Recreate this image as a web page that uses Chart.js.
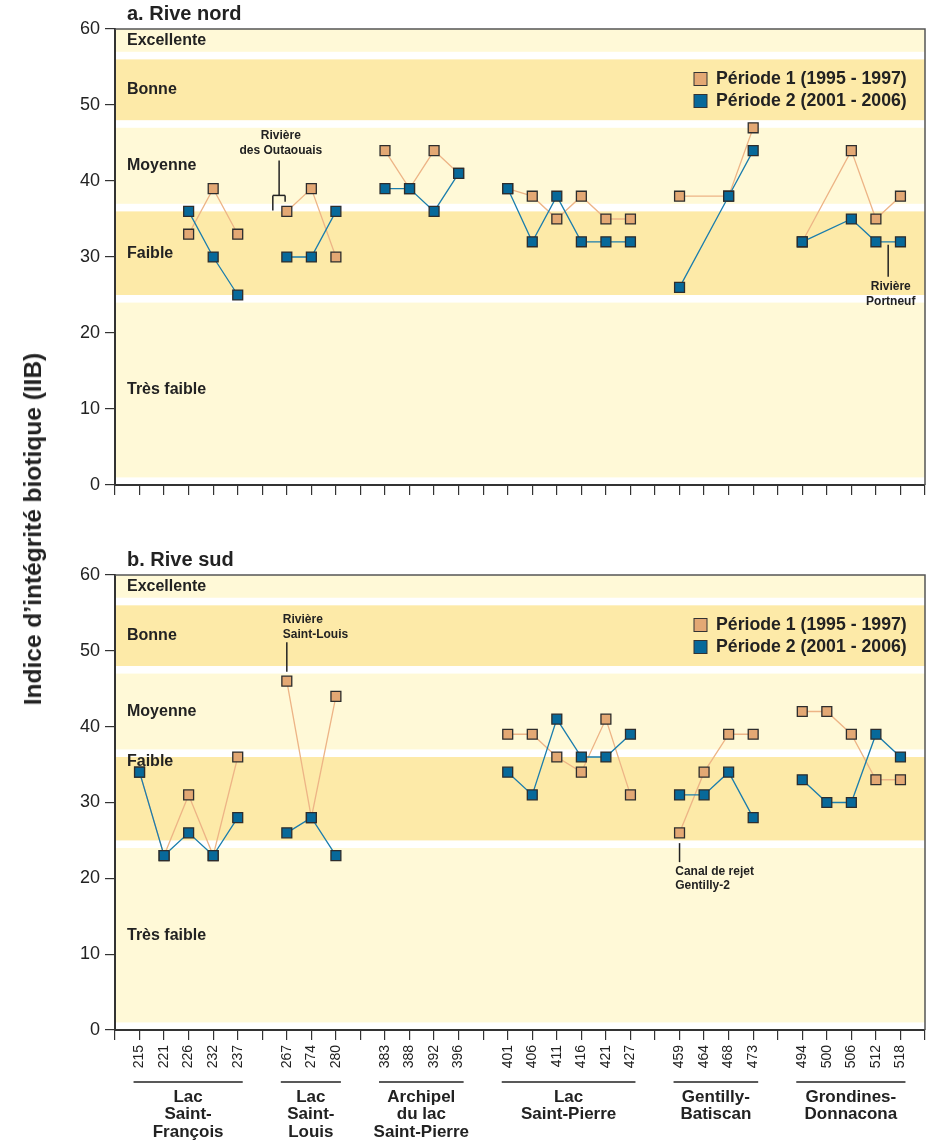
<!DOCTYPE html>
<html lang="fr">
<head>
<meta charset="utf-8">
<title>Indice d'intégrité biotique (IIB)</title>
<script src="https://cdn.jsdelivr.net/npm/chart.js@4.4.1/dist/chart.umd.min.js"></script>
<style>
  html, body { margin: 0; padding: 0; background: #fff; }
  #wrap { position: relative; width: 930px; height: 1141px; overflow: hidden; }
  #c1 { position: absolute; left: 0; top: 0; }
  #c2 { position: absolute; left: 0; top: 545px; }
  #ytitle {
    position: absolute; left: 33px; top: 529px;
    transform: translate(-50%, -50%) rotate(-90deg);
    font: bold 24.5px "Liberation Sans", Arial, sans-serif;
    color: #222; white-space: nowrap;
  }
</style>
</head>
<body>
<div id="wrap">
  <canvas id="c1" width="930" height="545"></canvas>
  <canvas id="c2" width="930" height="596"></canvas>
  <div id="ytitle">Indice d’intégrité biotique (IIB)</div>
</div>
<script>
// Stations regroupees par secteur (ordre amont -> aval)
const groupStations = [
  ["215", "221", "226", "232", "237"],
  ["267", "274", "280"],
  ["383", "388", "392", "396"],
  ["401", "406", "411", "416", "421", "427"],
  ["459", "464", "468", "473"],
  ["494", "500", "506", "512", "518"],
];
const groupNames = [
  ["Lac", "Saint-", "François"],
  ["Lac", "Saint-", "Louis"],
  ["Archipel", "du lac", "Saint-Pierre"],
  ["Lac", "Saint-Pierre"],
  ["Gentilly-", "Batiscan"],
  ["Grondines-", "Donnacona"],
];

// Classes de l'IIB
const bandNames = ["Très faible", "Faible", "Moyenne", "Bonne", "Excellente"];
const bandLow = [1, 25, 37, 48, 57];
const bandHigh = [24, 36, 47, 56, 60];
const yTicks = [0, 10, 20, 30, 40, 50, 60];

const seriesNames = ["Période 1 (1995 - 1997)", "Période 2 (2001 - 2006)"];

// a. Rive nord (null = pas de station)
const nordP1 = [null, null, 33, 39, 33, 36, 39, 30, 44, 39, 44, 41, 39, 38, 35, 38, 35, 35, 38, null, 38, 47, 32, null, 44, 35, 38];
const nordP2 = [null, null, 36, 30, 25, 30, 30, 36, 39, 39, 36, 41, 39, 32, 38, 32, 32, 32, 26, null, 38, 44, 32, null, 35, 32, 32];

// b. Rive sud
const sudP1 = [34, 23, 31, 23, 36, 46, 28, 44, null, null, null, null, 39, 39, 36, 34, 41, 31, 26, 34, 39, 39, 42, 42, 39, 33, 33];
const sudP2 = [34, 23, 26, 23, 28, 26, 28, 23, null, null, null, null, 34, 31, 41, 36, 36, 39, 31, 31, 34, 28, 33, 30, 30, 39, 36];

const FONT = '"Liberation Sans", Arial, Helvetica, sans-serif';
const P1_FILL = "#E3A874", P1_LINE = "#EDB486";
const P2_FILL = "#07699A", P2_LINE = "#1A7DAD";
const BAND_LIGHT = "#FFF9D7", BAND_DARK = "#FDEAA8";
const INK = "#222";

Chart.defaults.font.family = FONT;

// position de chaque station sur l'axe (un creneau vide entre secteurs)
const slotOf = {};
const slotLabel = {};
let slot = 1;
groupStations.forEach((g) => {
  g.forEach((st) => { slotOf[st] = slot; slotLabel[slot] = st; slot++; });
  slot++;
});
const xMax = slot - 1;

function series(values) {
  const pts = [];
  let k = 0;
  groupStations.forEach((g) => {
    g.forEach((st) => {
      const v = values[k++];
      if (v !== null) pts.push({ x: slotOf[st], y: v });
    });
    pts.push({ x: slotOf[g[g.length - 1]] + 1, y: null });
  });
  return pts;
}

function text(ctx, str, x, y, size, align, weight) {
  ctx.font = `${weight || "bold"} ${size}px ${FONT}`;
  ctx.textAlign = align || "left";
  ctx.textBaseline = "middle";
  ctx.fillStyle = INK;
  ctx.fillText(str, x, y);
}

function seg(ctx, x1, y1, x2, y2) {
  ctx.beginPath();
  ctx.moveTo(x1, y1);
  ctx.lineTo(x2, y2);
  ctx.stroke();
}

function panelPlugin(panel) {
  return {
    id: "panel-" + panel.id,
    beforeDraw(chart) {
      const { ctx, chartArea: a, scales: { y } } = chart;
      ctx.save();
      bandNames.forEach((name, i) => {
        const top = y.getPixelForValue(bandHigh[i]);
        const bot = y.getPixelForValue(bandLow[i]);
        ctx.fillStyle = i % 2 === 0 ? BAND_LIGHT : BAND_DARK;
        ctx.fillRect(a.left, top, a.right - a.left, bot - top);
        text(ctx, name, a.left + 12, y.getPixelForValue(panel.labelAt[i]), 16);
      });
      ctx.restore();
    },
    afterDraw(chart) {
      const { ctx, chartArea: a, scales: { x, y } } = chart;
      const px = (st) => x.getPixelForValue(slotOf[st]);
      ctx.save();
      // cadre haut et droit
      ctx.strokeStyle = "#555";
      ctx.lineWidth = 1.5;
      ctx.beginPath();
      ctx.moveTo(a.left, a.top);
      ctx.lineTo(a.right, a.top);
      ctx.lineTo(a.right, a.bottom);
      ctx.stroke();

      text(ctx, panel.title, a.left + 12, a.top - 15, 20);

      // legende
      [P1_FILL, P2_FILL].forEach((c, i) => {
        const cy = a.top + 50 + i * 22;
        ctx.fillStyle = c;
        ctx.fillRect(694, cy - 6.5, 13, 13);
        ctx.strokeStyle = "#333";
        ctx.lineWidth = 1;
        ctx.strokeRect(694, cy - 6.5, 13, 13);
        text(ctx, seriesNames[i], 716, cy, 17.7);
      });

      ctx.strokeStyle = INK;
      ctx.lineWidth = 1.5;
      panel.notes(ctx, px, (v) => y.getPixelForValue(v));

      if (panel.groups) {
        groupStations.forEach((g, gi) => {
          const x1 = px(g[0]) - 6;
          const x2 = px(g[g.length - 1]) + 5;
          ctx.strokeStyle = INK;
          ctx.lineWidth = 1.5;
          seg(ctx, x1, a.bottom + 52, x2, a.bottom + 52);
          groupNames[gi].forEach((ln, j) => {
            text(ctx, ln, (x1 + x2) / 2, a.bottom + 67 + j * 17.5, 17, "center");
          });
        });
      }
      ctx.restore();
    },
  };
}

function makeChart(canvas, panel) {
  const common = {
    pointStyle: "rect",
    pointRadius: 7,
    pointHoverRadius: 7,
    pointBorderWidth: 1.3,
    pointBorderColor: "#2d2d2d",
    borderWidth: 1.3,
    spanGaps: false,
  };
  return new Chart(canvas, {
    type: "line",
    data: {
      datasets: [
        { ...common, label: seriesNames[0], data: series(panel.p1), borderColor: P1_LINE, backgroundColor: P1_FILL, order: 2 },
        { ...common, label: seriesNames[1], data: series(panel.p2), borderColor: P2_LINE, backgroundColor: P2_FILL, order: 1 },
      ],
    },
    options: {
      responsive: false,
      animation: false,
      events: [],
      layout: { autoPadding: false, padding: { top: panel.padTop, right: 5, left: 0, bottom: 0 } },
      plugins: { legend: { display: false }, tooltip: { enabled: false } },
      scales: {
        x: {
          type: "linear",
          min: 0,
          max: xMax,
          afterFit: (s) => {
            s.height = panel.xHeight;
            s.paddingLeft = 0;
            s.paddingRight = 0;
          },
          afterBuildTicks: (s) => { s.ticks = Array.from({ length: xMax + 1 }, (_, i) => ({ value: i })); },
          ticks: {
            autoSkip: false,
            minRotation: 90,
            maxRotation: 90,
            padding: 5,
            color: INK,
            font: { size: 14 },
            callback: (v) => (panel.groups ? slotLabel[v] || "" : ""),
          },
          grid: { drawOnChartArea: false, drawTicks: true, tickLength: 10, color: "#333", lineWidth: 1.2 },
          border: { color: "#333", width: 2 },
        },
        y: {
          min: 0,
          max: 60,
          afterFit: (s) => { s.width = 115; },
          afterBuildTicks: (s) => { s.ticks = yTicks.map((v) => ({ value: v })); },
          ticks: { padding: 5, color: INK, font: { size: 18 } },
          grid: { drawOnChartArea: false, drawTicks: true, tickLength: 10, color: "#333", lineWidth: 1.2 },
          border: { color: "#333", width: 2 },
        },
      },
    },
    plugins: [panelPlugin(panel)],
  });
}

makeChart(document.getElementById("c1"), {
  id: "nord",
  title: "a. Rive nord",
  p1: nordP1,
  p2: nordP2,
  padTop: 29,
  xHeight: 60,
  groups: false,
  labelAt: [12.5, 30.5, 42, 52, 58.5],
  notes(ctx, px, py) {
    let ax = px("267"), ay = py(36);
    text(ctx, "Rivière", ax - 6, ay - 76, 12, "center");
    text(ctx, "des Outaouais", ax - 6, ay - 61, 12, "center");
    seg(ctx, ax - 7.7, ay - 51, ax - 7.7, ay - 16);
    seg(ctx, ax - 14, ay - 16, ax - 1.7, ay - 16);
    seg(ctx, ax - 14, ay - 16, ax - 14, ay - 1);
    seg(ctx, ax - 1.7, ay - 16, ax - 1.7, ay - 9.7);

    ax = (px("512") + px("518")) / 2; ay = py(32);
    seg(ctx, ax, ay + 3, ax, ay + 35);
    text(ctx, "Rivière", ax + 2.6, ay + 45, 12, "center");
    text(ctx, "Portneuf", ax + 2.6, ay + 60, 12, "center");
  },
});

makeChart(document.getElementById("c2"), {
  id: "sud",
  title: "b. Rive sud",
  p1: sudP1,
  p2: sudP2,
  padTop: 30,
  xHeight: 111,
  groups: true,
  labelAt: [12.5, 35.4, 42, 52, 58.5],
  notes(ctx, px, py) {
    let ax = px("267"), ay = py(46);
    seg(ctx, ax, ay - 39, ax, ay - 9.4);
    text(ctx, "Rivière", ax - 4, ay - 61.4, 12, "left");
    text(ctx, "Saint-Louis", ax - 4, ay - 46.4, 12, "left");

    ax = px("459"); ay = py(26);
    seg(ctx, ax, ay + 10.3, ax, ay + 29.3);
    text(ctx, "Canal de rejet", ax - 4.3, ay + 38.6, 12, "left");
    text(ctx, "Gentilly-2", ax - 4.3, ay + 53.3, 12, "left");
  },
});
</script>
</body>
</html>
